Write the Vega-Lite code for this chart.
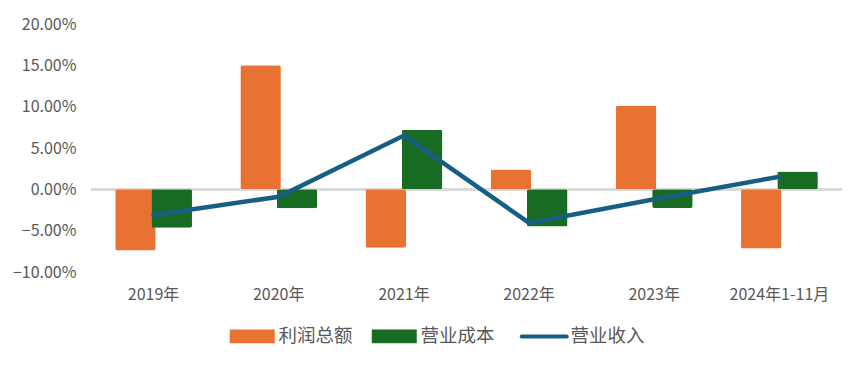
{
  "$schema": "https://vega.github.io/schema/vega-lite/v6.json",
  "width": 751,
  "height": 248,
  "autosize": {"type": "none"},
  "padding": {"left": 91, "top": 24, "right": 23, "bottom": 93},
  "background": "white",
  "config": {
    "view": {"stroke": null},
    "font": "Noto Sans CJK SC",
    "axis": {"labelFont": "Noto Sans CJK SC", "labelColor": "#595959", "labelFontSize": 16, "grid": false, "domain": false, "ticks": false, "tickSize": 0, "title": null},
    "legend": {"labelFont": "Noto Sans CJK SC", "labelColor": "#595959", "labelFontSize": 18.5}
  },
  "data": {
    "values": [
      {"cat": "2019年", "series": "利润总额", "value": -0.074},
      {"cat": "2019年", "series": "营业成本", "value": -0.0466},
      {"cat": "2019年", "series": "营业收入", "value": -0.031},
      {"cat": "2020年", "series": "利润总额", "value": 0.150},
      {"cat": "2020年", "series": "营业成本", "value": -0.023},
      {"cat": "2020年", "series": "营业收入", "value": -0.009},
      {"cat": "2021年", "series": "利润总额", "value": -0.0707},
      {"cat": "2021年", "series": "营业成本", "value": 0.072},
      {"cat": "2021年", "series": "营业收入", "value": 0.065},
      {"cat": "2022年", "series": "利润总额", "value": 0.024},
      {"cat": "2022年", "series": "营业成本", "value": -0.045},
      {"cat": "2022年", "series": "营业收入", "value": -0.0406},
      {"cat": "2023年", "series": "利润总额", "value": 0.101},
      {"cat": "2023年", "series": "营业成本", "value": -0.0225},
      {"cat": "2023年", "series": "营业收入", "value": -0.012},
      {"cat": "2024年1-11月", "series": "利润总额", "value": -0.0715},
      {"cat": "2024年1-11月", "series": "营业成本", "value": 0.0217},
      {"cat": "2024年1-11月", "series": "营业收入", "value": 0.0153}
    ]
  },
  "encoding": {
    "x": {
      "field": "cat", "type": "nominal", "sort": null,
      "scale": {"paddingInner": 0.42, "paddingOuter": 0.21},
      "axis": {"labelAngle": 0, "labelPadding": 14}
    },
    "y": {
      "field": "value", "type": "quantitative",
      "scale": {"domain": [-0.1, 0.2], "nice": false, "zero": false},
      "axis": {"values": [-0.1, -0.05, 0, 0.05, 0.1, 0.15, 0.2], "format": ".2%", "labelPadding": 15}
    },
    "color": {
      "field": "series", "type": "nominal",
      "scale": {"domain": ["利润总额", "营业成本", "营业收入"], "range": ["#E97132", "#196B24", "#156082"]},
      "legend": {
        "title": null, "orient": "none", "direction": "horizontal",
        "legendX": 152, "legendY": 303,
        "symbolType": "M-1,-0.31L1,-0.31L1,0.31L-1,0.31Z",
        "symbolSize": 2025, "labelOffset": 17, "columnPadding": 18,
        "encode": {
          "symbols": {
            "update": {
              "shape": {"signal": "datum.value === '营业收入' ? 'M-1,0L1,0' : 'M-1,-0.31L1,-0.31L1,0.31L-1,0.31Z'"},
              "fill": {"signal": "datum.value === '营业收入' ? 'transparent' : scale('color', datum.value)"},
              "stroke": {"signal": "scale('color', datum.value)"},
              "strokeWidth": {"signal": "datum.value === '营业收入' ? 4 : 0"},
              "strokeCap": {"value": "round"}
            }
          }
        }
      }
    }
  },
  "layer": [
    {
      "mark": {"type": "rule", "color": "#d9d9d9", "strokeWidth": 2},
      "encoding": {"y": {"datum": 0}, "x": null, "color": null}
    },
    {
      "transform": [{"filter": "datum.series !== '营业收入'"}],
      "mark": {"type": "bar", "size": 40.5, "cornerRadius": 2},
      "encoding": {
        "xOffset": {"field": "series", "type": "nominal", "scale": {"domain": ["利润总额", "营业成本"], "paddingInner": 0, "paddingOuter": 0}}
      }
    },
    {
      "transform": [{"filter": "datum.series === '营业收入'"}],
      "mark": {"type": "line", "strokeWidth": 4.5, "strokeCap": "round"}
    }
  ]
}
